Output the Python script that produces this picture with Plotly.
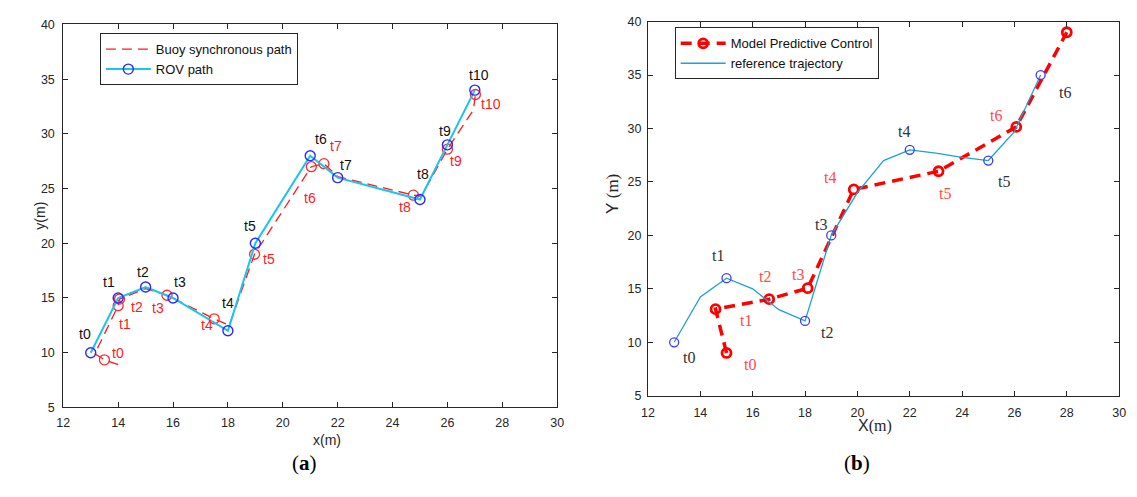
import plotly.graph_objects as go

W, H = 1137, 497

# ---------------- Panel (a) data ----------------
rov_x = [13, 14, 15, 16, 18, 19, 21, 22, 25, 26, 27]
rov_y = [10, 15, 16, 15, 12, 20, 28, 26, 24, 29, 34]
rov_lbl = ["t0", "t1", "t2", "t3", "t4", "t5", "t6", "t7", "t8", "t9", "t10"]
rov_lbl_x = [12.8, 13.65, 14.9, 16.25, 18.0, 18.8, 21.4, 22.3, 25.1, 25.9, 27.15]
rov_lbl_y = [11.7, 16.5, 17.4, 16.5, 14.5, 21.6, 29.5, 27.2, 26.3, 30.3, 35.4]

buoy_path_x = [14.0, 13.5, 13.15, 14.0, 14.05, 15.0, 15.78, 17.5, 18.05, 18.97, 21.04, 21.5, 22.0, 24.76, 25.05, 26.0, 26.95, 27.02]
buoy_path_y = [8.9, 9.35, 9.9, 14.3, 14.9, 15.85, 15.25, 13.1, 12.5, 19.0, 27.0, 27.28, 26.1, 24.4, 24.3, 28.6, 32.2, 33.6]
buoy_mk_x = [13.5, 14.0, 14.05, 15.78, 17.5, 18.97, 21.04, 21.5, 24.76, 26.0, 27.02]
buoy_mk_y = [9.35, 14.3, 14.9, 15.25, 13.1, 19.0, 27.0, 27.28, 24.4, 28.6, 33.6]
buoy_lbl = ["t0", "t1", "t2", "t3", "t4", "t5", "t6", "t7", "t8", "t9", "t10"]
buoy_lbl_x = [14.0, 14.25, 14.7, 15.45, 17.25, 19.5, 21.0, 21.95, 24.45, 26.3, 27.6]
buoy_lbl_y = [10.0, 12.6, 14.2, 14.1, 12.5, 18.6, 24.1, 28.9, 23.3, 27.5, 32.7]

# ---------------- Panel (b) data ----------------
ref_x = [13, 14, 15, 16, 17, 18, 19, 20, 21, 22, 23, 24, 25, 26, 27]
ref_y = [10, 14.25, 16, 15, 13.05, 12, 20, 24, 27, 28, 27.7, 27.3, 27, 29.7, 35]
refmk_x = [13, 15, 18, 19, 22, 25, 27]
refmk_y = [10, 16, 12, 20, 28, 27, 35]
ref_lbl = ["t0", "t1", "t2", "t3", "t4", "t5", "t6"]
ref_lbl_x = [13.55, 14.68, 18.85, 18.62, 21.77, 25.6, 27.92]
ref_lbl_y = [8.6, 18.1, 10.9, 21.0, 29.7, 25.0, 33.4]

mpc_x = [15.0, 14.58, 16.63, 18.1, 19.86, 23.1, 26.07, 28.0]
mpc_y = [9.0, 13.1, 14.03, 15.06, 24.3, 26.0, 30.15, 39.0]
mpc_lbl = ["t0", "t1", "t2", "t3", "t4", "t5", "t6"]
mpc_lbl_x = [15.9, 15.75, 16.48, 17.73, 18.96, 23.34, 25.31]
mpc_lbl_y = [7.9, 12.0, 16.2, 16.3, 25.4, 23.9, 31.2]

x_ticks = [12, 14, 16, 18, 20, 22, 24, 26, 28, 30]
y_ticks = [5, 10, 15, 20, 25, 30, 35, 40]

SANS = "Liberation Sans, Arial, sans-serif"
SERIF = "Liberation Serif, Times New Roman, serif"
AX = "#262626"

fig = go.Figure()

# Panel (a)
fig.add_trace(go.Scatter(x=buoy_path_x, y=buoy_path_y, mode="lines",
                         line=dict(color="#ff1a1a", width=1.3, dash="10px,6px"),
                         name="Buoy synchronous path", legend="legend", xaxis="x", yaxis="y"))
fig.add_trace(go.Scatter(x=buoy_mk_x, y=buoy_mk_y, mode="markers",
                         marker=dict(symbol="circle-open", size=10, color="#ff2a2a", line=dict(width=1.3)),
                         showlegend=False, xaxis="x", yaxis="y"))
fig.add_trace(go.Scatter(x=rov_x, y=rov_y, mode="lines+markers",
                         line=dict(color="#18c4f0", width=2),
                         marker=dict(symbol="circle-open", size=10, color="#2a2aff", line=dict(width=1.4)),
                         name="ROV path", legend="legend", xaxis="x", yaxis="y"))

# Panel (b)
fig.add_trace(go.Scatter(x=mpc_x, y=mpc_y, mode="lines+markers",
                         line=dict(color="#ff0000", width=3.5, dash="11px,7px"),
                         marker=dict(symbol="circle-open", size=9, color="#ff0000", line=dict(width=2.8)),
                         name="Model Predictive Control", legend="legend2", xaxis="x2", yaxis="y2"))
fig.add_trace(go.Scatter(x=ref_x, y=ref_y, mode="lines",
                         line=dict(color="#1f9fd8", width=1.3),
                         name="reference trajectory", legend="legend2", xaxis="x2", yaxis="y2"))
fig.add_trace(go.Scatter(x=refmk_x, y=refmk_y, mode="markers",
                         marker=dict(symbol="circle-open", size=9, color="#3a3aff", line=dict(width=1.3)),
                         showlegend=False, xaxis="x2", yaxis="y2"))

ann = []
for t, x, y in zip(rov_lbl, rov_lbl_x, rov_lbl_y):
    ann.append(dict(x=x, y=y, xref="x", yref="y", text=t, showarrow=False,
                    font=dict(family=SANS, size=14, color="#111111")))
for t, x, y in zip(buoy_lbl, buoy_lbl_x, buoy_lbl_y):
    ann.append(dict(x=x, y=y, xref="x", yref="y", text=t, showarrow=False,
                    font=dict(family=SANS, size=14, color="#ff1a1a")))
for t, x, y in zip(ref_lbl, ref_lbl_x, ref_lbl_y):
    ann.append(dict(x=x, y=y, xref="x2", yref="y2", text=t, showarrow=False,
                    font=dict(family=SERIF, size=16, color="#333333")))
for t, x, y in zip(mpc_lbl, mpc_lbl_x, mpc_lbl_y):
    ann.append(dict(x=x, y=y, xref="x2", yref="y2", text=t, showarrow=False,
                    font=dict(family=SERIF, size=16, color="#ff4a4a")))

def px(xp):
    return xp / W

def py(yp):
    return 1 - yp / H

# axis titles and captions
ann += [
    dict(x=px(308), y=py(456), xref="paper", yref="paper", text="x(m)", showarrow=False,
         font=dict(family=SANS, size=14, color=AX)),
    dict(x=px(23), y=py(215), xref="paper", yref="paper", text="y(m)", showarrow=False, textangle=-90,
         font=dict(family=SANS, size=14, color=AX)),
    dict(x=px(898), y=py(442), xref="paper", yref="paper",
         text="X<span style='font-family:Liberation Serif'>(m)</span>", showarrow=False,
         font=dict(family=SANS, size=16, color=AX)),
    dict(x=px(613), y=py(192), xref="paper", yref="paper",
         text="Y <span style='font-family:Liberation Serif'>(m)</span>", showarrow=False, textangle=-90,
         font=dict(family=SANS, size=17, color=AX)),
    dict(x=px(287), y=py(484), xref="paper", yref="paper", text="(<b>a</b>)", showarrow=False,
         font=dict(family=SERIF, size=21, color="#000000")),
    dict(x=px(876), y=py(484), xref="paper", yref="paper", text="(<b>b</b>)", showarrow=False,
         font=dict(family=SERIF, size=21, color="#000000")),
]

axis_common = dict(showline=True, linecolor=AX, linewidth=1, mirror="ticks", ticks="inside",
                   ticklen=5, tickcolor=AX, showgrid=False, zeroline=False,
                   tickfont=dict(family=SANS, size=12.5, color=AX))

fig.update_layout(
    width=W, height=H, margin=dict(l=0, r=0, t=0, b=0),
    paper_bgcolor="white", plot_bgcolor="white",
    xaxis=dict(domain=[px(57), px(557)], range=[12, 30], tickvals=x_ticks, anchor="y",
               ticklabelstandoff=4, **axis_common),
    yaxis=dict(domain=[py(412), py(18)], range=[5, 40], tickvals=y_ticks, anchor="x",
               ticklabelstandoff=5, **axis_common),
    xaxis2=dict(domain=[px(649), px(1126)], range=[12, 30], tickvals=x_ticks, anchor="y2",
                ticklabelstandoff=5, **axis_common),
    yaxis2=dict(domain=[py(400), py(15)], range=[5, 40], tickvals=y_ticks, anchor="x2",
                ticklabelstandoff=3, **axis_common),
    legend=dict(x=px(94), y=py(27), xanchor="left", yanchor="top", bgcolor="white",
                bordercolor=AX, borderwidth=1, font=dict(family=SANS, size=13, color="#111111"),
                itemwidth=45, tracegroupgap=0),
    legend2=dict(x=px(676), y=py(21), xanchor="left", yanchor="top", bgcolor="white",
                 bordercolor=AX, borderwidth=1, font=dict(family=SANS, size=13, color="#111111"),
                 itemwidth=45, tracegroupgap=0),
    annotations=ann,
    showlegend=True,
)

fig.write_html("out.html")
